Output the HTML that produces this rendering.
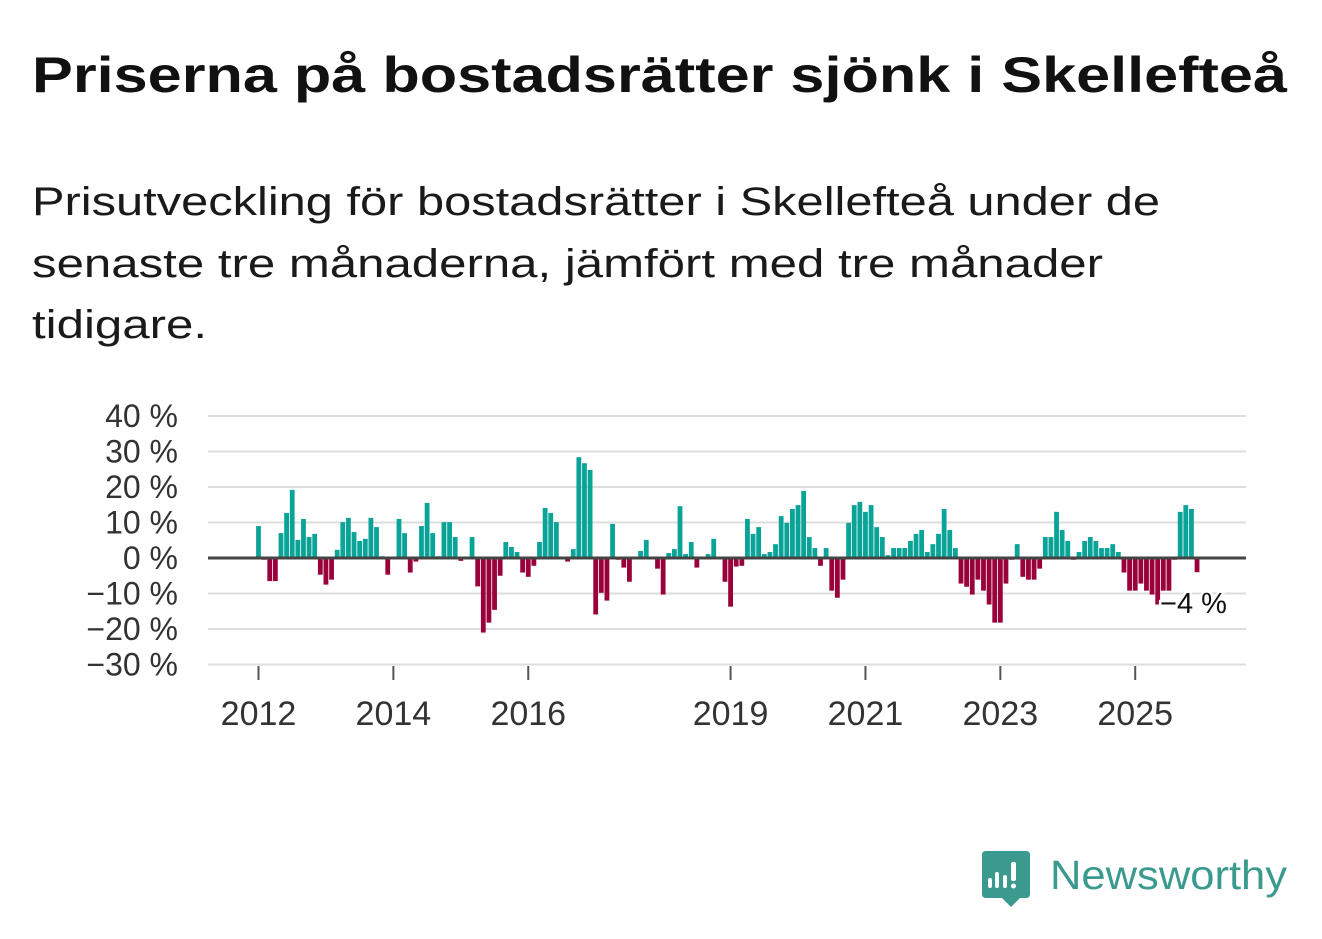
<!DOCTYPE html>
<html><head><meta charset="utf-8"><style>
html,body{margin:0;padding:0;background:#fff;}
svg{display:block;font-family:"Liberation Sans",sans-serif;}
</style></head><body>
<svg id="chart" width="1322" height="939" viewBox="0 0 1322 939">
<text x="32" y="92" font-size="50" font-weight="bold" fill="#111" textLength="1255" lengthAdjust="spacingAndGlyphs">Priserna på bostadsrätter sjönk i Skellefteå</text>
<g font-size="40" fill="#1a1a1a">
<text x="32" y="215" textLength="1128" lengthAdjust="spacingAndGlyphs">Prisutveckling för bostadsrätter i Skellefteå under de</text>
<text x="32" y="277" textLength="1071" lengthAdjust="spacingAndGlyphs">senaste tre månaderna, jämfört med tre månader</text>
<text x="32" y="338" textLength="175" lengthAdjust="spacingAndGlyphs">tidigare.</text>
</g>
<g id="grid"></g>
<g id="yticks"></g>
<g id="xticks"></g>
<g id="bars"></g>
<line x1="208" x2="1246" y1="558" y2="558" stroke="#444" stroke-width="3"/>
<g id="label"></g>
<g>
<path d="M986 851 H1026 Q1030 851 1030 855 V894 Q1030 898 1026 898 H1020 L1011 907 L1002 898 H986 Q982 898 982 894 V855 Q982 851 986 851 Z" fill="#3a9a8e"/>
<rect x="988" y="878" width="4" height="10" rx="2" fill="#fff"/>
<rect x="995" y="872" width="4" height="16" rx="2" fill="#fff"/>
<rect x="1003" y="875" width="4" height="13" rx="2" fill="#fff"/>
<rect x="1011" y="862" width="5" height="19" rx="2" fill="#fff"/>
<circle cx="1013.5" cy="886" r="2.5" fill="#fff"/>
<text x="1050" y="889" font-size="41" fill="#3a9a8e" textLength="237" lengthAdjust="spacingAndGlyphs">Newsworthy</text>
</g>
</svg>
<script>
const yTicks=[40,30,20,10,0,-10,-20,-30];
const xTickYears=[2012,2014,2016,2019,2021,2023,2025];
const startYear=2012;
const values=[9,-0.5,-6.5,-6.5,7,12.7,19.2,5.1,11,5.9,6.8,-4.7,-7.5,-6.1,2.3,10.1,11.3,7.3,4.8,5.4,11.3,8.7,0.5,-4.7,
0.3,11,7,-4.1,-1,9,15.5,7,0.5,10.1,10.1,5.9,-0.8,0,5.9,-8,-21,-18.2,-14.6,-5,4.5,3.1,1.7,-4.1,
-5.3,-2.2,4.5,14.1,12.7,10.1,0,-1,2.5,28.4,26.7,24.8,-15.9,-9.8,-12,9.6,-0.5,-2.7,-6.7,0,2,5.1,0,-3,
-10.3,1.4,2.5,14.6,1.1,4.5,-2.7,0,1.1,5.4,0,-6.7,-13.7,-2.4,-2.2,11,6.8,8.7,1.1,1.7,3.9,11.8,9.9,13.8,
14.9,18.9,5.9,2.8,-2.2,2.8,-9.2,-11.2,-6.1,9.9,14.9,15.8,13,14.9,8.7,5.9,0.8,2.8,2.8,2.8,4.8,6.8,7.9,1.7,
3.9,6.8,13.8,7.9,2.8,-7.2,-8.1,-10.3,-6.1,-9.2,-13.1,-18.2,-18.2,-7.2,-0.5,3.9,-5.3,-6.1,-6.1,-3,5.9,5.9,13,7.9,
4.8,-0.5,1.7,4.8,5.9,4.8,2.8,2.8,3.9,1.7,-4.1,-9.2,-9.2,-7.2,-9.2,-10.3,-13.1,-9.2,-9.2,-0.5,13,14.9,13.8,-4];
const lastLabel=["−4 %"];
const NS="http://www.w3.org/2000/svg";
function y(v){return 558-v*3.55;}
function x(i){return 258.5+i*5.62;}
function mk(tag,attrs,parent){const e=document.createElementNS(NS,tag);for(const k in attrs)e.setAttribute(k,attrs[k]);parent.appendChild(e);return e;}
const grid=document.getElementById('grid'),yt=document.getElementById('yticks'),xt=document.getElementById('xticks'),bars=document.getElementById('bars');
yTicks.forEach(t=>{
 const l=mk('line',{x1:208,x2:1246,y1:y(t),y2:y(t),stroke:'#ddd','stroke-width':2},grid);
 
 
 const tx=mk('text',{x:178,y:y(t)+11,'font-size':32,fill:'#333','text-anchor':'end'},yt);
 tx.textContent=(t<0?'−'+(-t):t)+' %';
 
 
});
xTickYears.forEach(yr=>{
 const xx=x((yr-startYear)*12);
 const l=mk('line',{x1:xx,x2:xx,y1:666,y2:680,stroke:'#555','stroke-width':2},xt);
 
 
 const tx=mk('text',{x:xx,y:725,'font-size':34,fill:'#333','text-anchor':'middle'},xt);
 tx.textContent=yr;
 
 
});
values.forEach((v,i)=>{
 const top=v>=0?y(v):558, h=Math.abs(v)*3.55;
 const r=mk('rect',{x:x(i)-2.4,y:top,width:4.8,height:h,fill:v>=0?'#0aa398':'#9a0039'},bars);
 
 
});
const li=values.length-1;
const lbl=mk('text',{x:x(li)-37,y:y(values[li])+41,'font-size':29,fill:'#111',stroke:'#fff','stroke-width':5,'paint-order':'stroke'},document.getElementById('label'));
lbl.textContent=lastLabel[0];


</script>
</body></html>
